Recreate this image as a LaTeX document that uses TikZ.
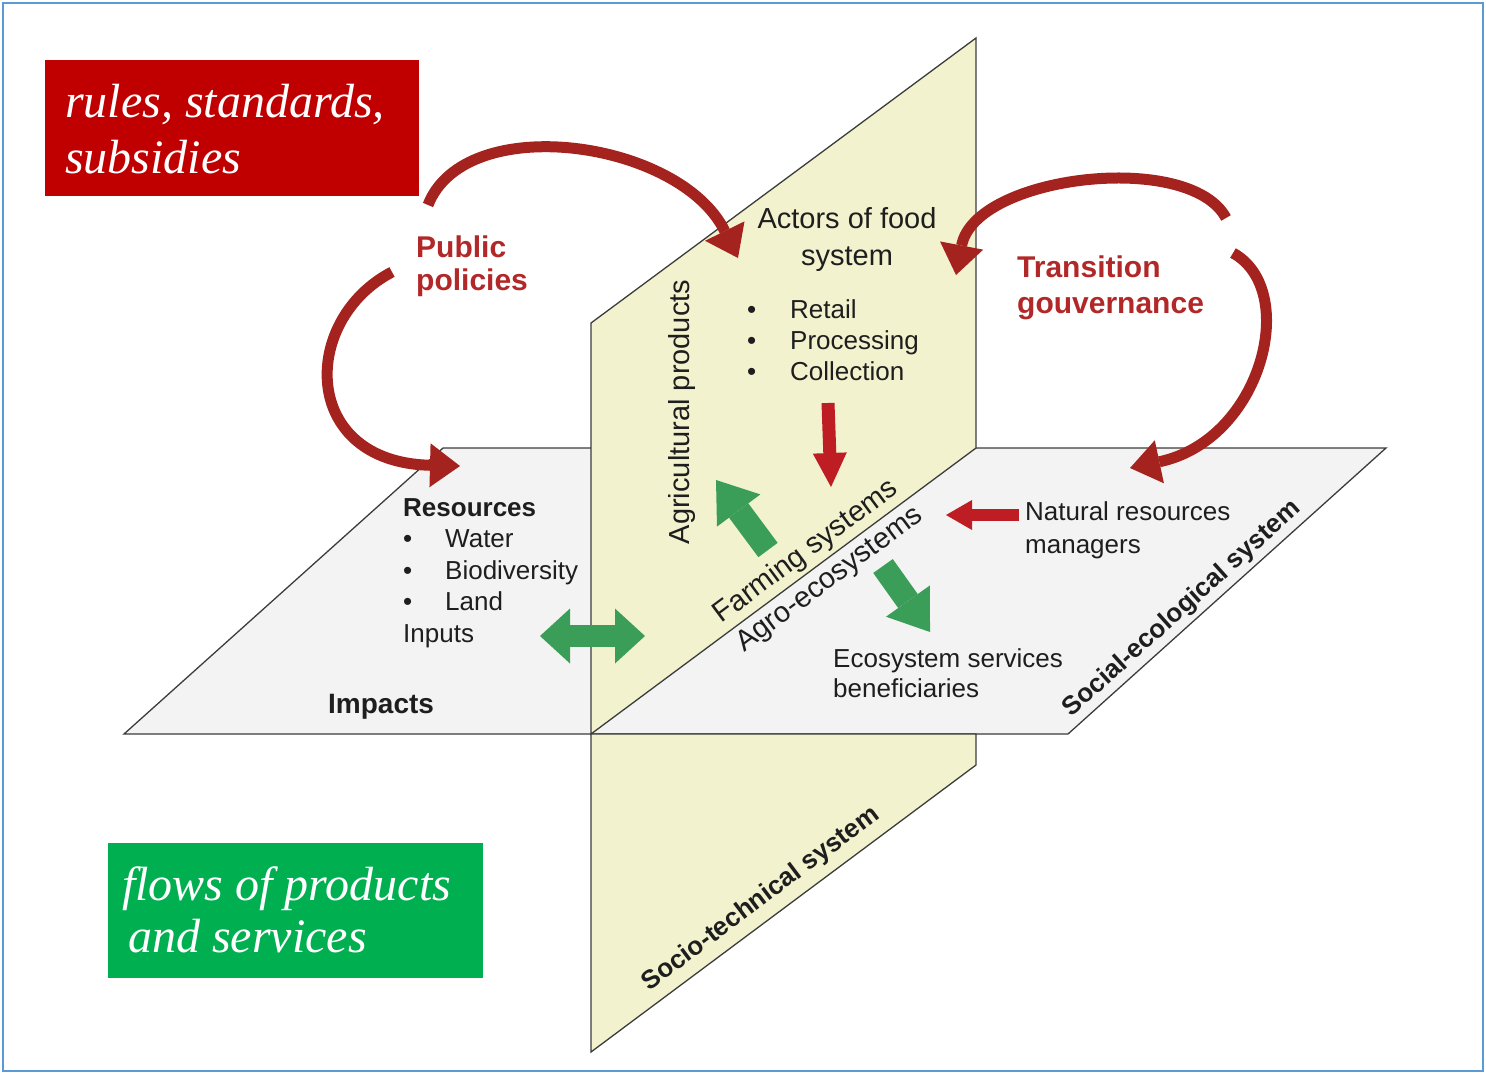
\documentclass[tikz,border=0pt]{standalone}
\usepackage{fontspec}
\setmainfont{Liberation Sans}
\newfontfamily\serifit{Liberation Serif}
\usetikzlibrary{arrows.meta}

\definecolor{planeyellow}{RGB}{242,242,206}
\definecolor{planegrey}{RGB}{243,243,243}
\definecolor{planeline}{RGB}{60,60,60}
\definecolor{txtgrey}{RGB}{30,30,30}
\definecolor{txtred}{RGB}{178,40,40}
\definecolor{blockred}{RGB}{190,30,35}
\definecolor{blockgreen}{RGB}{58,158,88}
\definecolor{bendred}{RGB}{165,35,30}
\definecolor{boxred}{RGB}{192,0,0}
\definecolor{boxgreen}{RGB}{0,176,80}
\definecolor{framecol}{RGB}{91,155,213}

\tikzset{
  plane/.style={draw=planeline, line width=1.3pt, line join=miter},
  legbox/.style={anchor=north west, inner sep=0pt, minimum width=374pt, minimum height=136pt},
  legtxt/.style={anchor=base west, inner sep=0pt, align=left, text=white, font=\serifit\itshape\fontsize{48}{56}\selectfont},
  plain/.style={anchor=base west, inner sep=0pt, align=left, text=txtgrey, font=\fontsize{26}{31}\selectfont},
  big/.style={plain, font=\fontsize{29}{37}\selectfont},
  redhead/.style={anchor=base west, inner sep=0pt, align=left, text=txtred, font=\bfseries\fontsize{30}{36}\selectfont},
  edgelbl/.style={inner sep=0pt, text=txtgrey, font=\bfseries\fontsize{26}{30}\selectfont},
  redblock/.style={draw=blockred, line width=13pt, -{Triangle[width=34pt,length=34pt,line width=0pt]}},
  greenblock/.style={draw=blockgreen, line width=24pt, -{Triangle[width=54pt,length=38pt,line width=0pt]}},
  bendarrow/.style={draw=bendred, line width=11pt, -{Triangle[width=44pt,length=30pt,line width=0pt]}}
}

\begin{document}
\begin{tikzpicture}[x=1pt,y=1pt,yscale=-1]
\useasboundingbox (0,0) rectangle (1486,1074);

%Shape: Frame
\draw[framecol, line width=2pt] (3,3) rectangle (1483,1071);

%Shape: Horizontal plane
\draw[plane, fill=planegrey] (124,734) -- (443,448) -- (1386,448) -- (1068,734) -- cycle;
%Shape: Vertical plane, upper part
\draw[plane, fill=planeyellow] (591,323) -- (976,38) -- (976,448) -- (591,734) -- cycle;
%Shape: Vertical plane, lower part
\draw[plane, fill=planeyellow] (591,734) -- (976,734) -- (976,765) -- (591,1052) -- cycle;

% Legend boxes (text nodes sit on their last baseline)
\node (rules) [legbox, fill=boxred] at (45,60) {};
\node (rulestxt) [legtxt] at (65,173) {rules, standards,\\subsidies};
\node (flows) [legbox, fill=boxgreen, minimum width=375pt, minimum height=135pt] at (108,843) {};
\node (flowstxt) [legtxt, font=\serifit\itshape\fontsize{48}{52}\selectfont] at (122,952) {flows of products\\\hspace{6pt}and services};

% Text Node
\node (pubpol) [redhead, font=\bfseries\fontsize{30}{33}\selectfont] at (416,290) {Public\\policies};
% Text Node
\node (transgov) [redhead] at (1017,313) {Transition\\gouvernance};
% Text Node
\node (actors) [big, anchor=base, align=center] at (847,265) {Actors of food\\system};
% Text Node
\node (chain) [plain] at (747,380) {\makebox[43pt][l]{•}Retail\\\makebox[43pt][l]{•}Processing\\\makebox[43pt][l]{•}Collection};
% Text Node
\node (resources) [plain, font=\fontsize{26}{31.5}\selectfont] at (403,642) {\textbf{Resources}\\\makebox[42pt][l]{•}Water\\\makebox[42pt][l]{•}Biodiversity\\\makebox[42pt][l]{•}Land\\Inputs};
% Text Node
\node (impacts) [plain, font=\bfseries\fontsize{28}{32}\selectfont] at (328,713) {Impacts};
% Text Node
\node (nrm) [plain, font=\fontsize{26}{33}\selectfont] at (1025,553) {Natural resources\\managers};
% Text Node
\node (esb) [plain, font=\fontsize{26}{30}\selectfont] at (833,697) {Ecosystem services\\beneficiaries};
% Text Node
\node (agri) [big, anchor=center, rotate=90] at (682,412) {Agricultural products};
% Text Node
\node (farm) [big, anchor=center, rotate=36.6] at (806,552) {Farming systems};
% Text Node
\node (agro) [big, anchor=center, rotate=36.6] at (830,580) {Agro-ecosystems};
% Text Node
\node (socecol) [edgelbl, rotate=42] at (1182,609) {Social-ecological system};
% Text Node
\node (soctech) [edgelbl, rotate=36.9] at (761,899) {Socio-technical system};

% Straight arrows
\coordinate (collect) at (828,403);
\coordinate (farmtop) at (831,487);
\draw[redblock] (collect) -- (farmtop);
\coordinate (nrmleft) at (1019,515);
\coordinate (agroright) at (946,515);
\draw[redblock, line width=12pt, -{Triangle[width=30pt,length=26pt,line width=0pt]}] (nrmleft) -- (agroright);
\coordinate (farmtail) at (768,550);
\coordinate (agritip) at (716,480);
\draw[greenblock] (farmtail) -- (agritip);
\coordinate (agrotail) at (883,566);
\coordinate (esbtip) at (930,632);
\draw[greenblock] (agrotail) -- (esbtip);
\coordinate (inputsR) at (540,636);
\coordinate (agriL) at (645,636);
\draw[greenblock, line width=22pt, {Triangle[width=55pt,length=30pt,line width=0pt]}-{Triangle[width=55pt,length=30pt,line width=0pt]}] (inputsR) -- (agriL);

% Curved arrows
\coordinate (ppA) at (428,205);
\coordinate (actorsL) at (738,258);
\draw[bendarrow] (ppA) .. controls (465,110) and (680,140) .. (actorsL);
\coordinate (ppB) at (392,272);
\coordinate (resTop) at (460,466);
\draw[bendarrow] (ppB) .. controls (300,320) and (300,462) .. (resTop);
\coordinate (tgA) at (1226,218);
\coordinate (actorsR) at (956,275);
\draw[bendarrow] (tgA) .. controls (1190,150) and (975,175) .. (actorsR);
\coordinate (tgB) at (1233,253);
\coordinate (nrmTop) at (1130,468);
\draw[bendarrow] (tgB) .. controls (1300,290) and (1262,440) .. (nrmTop);

\end{tikzpicture}
\end{document}
